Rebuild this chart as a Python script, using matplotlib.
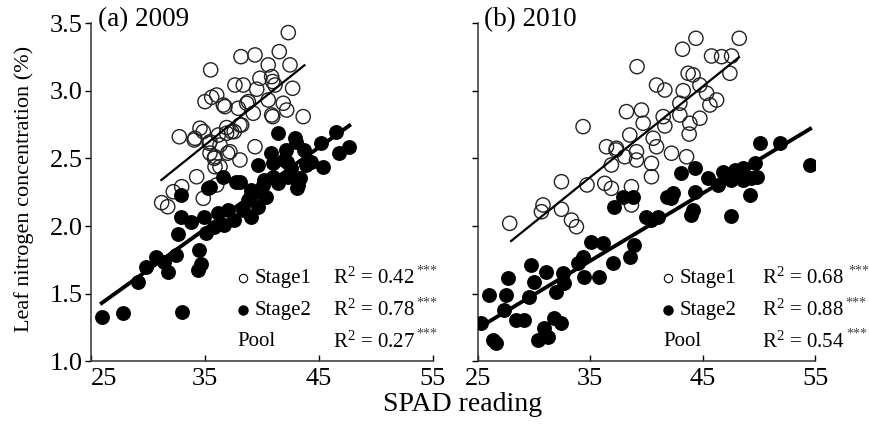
import numpy as np
import matplotlib
matplotlib.use("Agg")
from matplotlib import pyplot as plt

plt.rcParams['font.family'] = ['Liberation Serif', 'DejaVu Serif']
plt.rcParams['mathtext.fontset'] = 'custom'
plt.rcParams['mathtext.rm'] = 'Liberation Serif'
plt.rcParams['mathtext.it'] = 'Liberation Serif:italic'

# (a) 2009
a1_x = [42.31, 41.52, 39.39, 38.16, 40.55, 42.46, 35.50, 40.85, 39.82, 37.63,
        38.36, 39.54, 41.14, 42.69, 36.03, 35.00, 35.59, 36.61, 38.80, 37.92,
        40.55, 41.87, 42.17, 39.24, 40.94, 43.62, 38.22, 37.34, 34.85, 34.12,
        32.75, 36.17, 35.44, 39.39, 36.32, 37.19, 35.88, 38.07, 36.32, 34.27,
        32.96, 32.22, 31.20, 34.85, 36.03, 36.75, 34.06, 35.38, 37.57, 35.82,
        36.99, 31.73, 40.94, 38.66, 40.85, 34.56, 38.07, 36.90, 35.44, 35.88,
        36.90]
a1_y = [3.432, 3.291, 3.267, 3.254, 3.193, 3.193, 3.156, 3.106, 3.094, 3.044,
        3.044, 3.013, 3.044, 3.020, 2.970, 2.921, 2.953, 2.896, 2.921, 2.872,
        2.933, 2.909, 2.859, 2.835, 2.810, 2.810, 2.748, 2.699, 2.699, 2.650,
        2.661, 2.674, 2.624, 2.587, 2.600, 2.550, 2.513, 2.489, 2.439, 2.365,
        2.291, 2.254, 2.173, 2.205, 2.304, 2.884, 2.637, 2.613, 2.699, 2.501,
        2.539, 2.143, 3.070, 2.909, 2.822, 2.724, 2.748, 2.687, 2.540, 2.439,
        2.729]
a2_x = [25.96, 27.81, 32.98, 29.12, 29.82, 30.70, 31.75, 31.40, 32.46, 34.47,
        34.39, 34.65, 32.63, 32.89, 33.77, 32.89, 35.26, 34.91, 36.14, 36.58,
        37.02, 35.09, 35.79, 36.67, 37.72, 37.54, 38.77, 39.04, 39.65, 40.18,
        40.35, 40.96, 41.40, 41.93, 42.11, 42.98, 42.54, 43.16, 43.68, 44.30,
        45.18, 45.35, 46.75, 46.49, 47.63, 40.79, 42.89, 39.65, 43.33, 40.96,
        43.07, 38.07, 40.09, 35.44, 38.95, 43.86, 42.19, 38.33, 39.74, 39.04,
        41.40, 42.28]
a2_y = [1.326, 1.356, 1.363, 1.585, 1.696, 1.770, 1.659, 1.733, 1.785, 1.822,
        1.674, 1.719, 1.941, 2.067, 2.030, 2.230, 2.281, 2.067, 2.096, 2.363,
        2.119, 1.948, 1.993, 2.007, 2.326, 2.044, 2.193, 2.067, 2.141, 2.341,
        2.215, 2.467, 2.689, 2.489, 2.563, 2.622, 2.430, 2.304, 2.563, 2.474,
        2.615, 2.437, 2.541, 2.696, 2.585, 2.541, 2.652, 2.452, 2.356, 2.363,
        2.281, 2.326, 2.304, 2.289, 2.215, 2.452, 2.474, 2.119, 2.252, 2.267,
        2.319, 2.363]

# (b) 2010
b1_x = [44.40, 43.21, 48.25, 39.17, 45.79, 46.68, 47.57, 47.42, 43.71, 44.15,
        44.75, 40.90, 41.64, 43.27, 45.35, 42.97, 46.24, 45.64, 38.23, 39.56,
        41.49, 42.97, 44.75, 39.71, 43.86, 41.64, 34.37, 43.80, 38.52, 40.60,
        36.45, 37.34, 40.90, 39.12, 42.23, 43.57, 36.89, 38.08, 40.45, 39.12,
        40.45, 32.45, 34.72, 36.30, 36.89, 38.67, 30.81, 30.67, 32.45, 33.34,
        33.78, 27.85, 38.67, 37.30]
b1_y = [3.390, 3.309, 3.390, 3.180, 3.259, 3.254, 3.259, 3.131, 3.131, 3.119,
        3.044, 3.044, 3.007, 3.002, 2.983, 2.909, 2.933, 2.896, 2.847, 2.859,
        2.810, 2.822, 2.798, 2.761, 2.761, 2.741, 2.736, 2.681, 2.674, 2.650,
        2.587, 2.576, 2.587, 2.550, 2.539, 2.513, 2.452, 2.513, 2.464, 2.489,
        2.365, 2.328, 2.304, 2.316, 2.279, 2.291, 2.156, 2.106, 2.124, 2.044,
        1.995, 2.020, 2.156, 2.563]
b2_x = [50.06, 51.84, 54.51, 49.62, 48.58, 47.84, 48.58, 49.32, 46.80, 45.46,
        46.35, 47.54, 49.17, 44.28, 43.09, 44.28, 42.20, 44.13, 43.98, 47.54,
        41.01, 40.42, 39.97, 38.94, 38.50, 37.01, 35.83, 35.08, 36.12, 34.34,
        33.90, 34.49, 32.56, 32.71, 31.97, 31.08, 29.74, 30.04, 29.60, 27.67,
        27.52, 26.04, 27.38, 28.41, 29.15, 25.29, 26.33, 26.63, 30.34, 31.23,
        31.82, 32.41, 30.93, 37.16, 37.90, 38.79, 41.79, 42.38, 49.79]
b2_y = [2.613, 2.613, 2.452, 2.464, 2.427, 2.415, 2.341, 2.353, 2.402, 2.353,
        2.304, 2.341, 2.230, 2.427, 2.390, 2.254, 2.205, 2.119, 2.081, 2.074,
        2.069, 2.044, 2.069, 1.859, 1.773, 1.724, 1.624, 1.884, 1.872, 1.773,
        1.724, 1.624, 1.650, 1.576, 1.513, 1.661, 1.711, 1.587, 1.476, 1.613,
        1.489, 1.489, 1.378, 1.304, 1.304, 1.279, 1.156, 1.131, 1.156, 1.180,
        1.316, 1.279, 1.242, 2.143, 2.217, 2.213, 2.217, 2.242, 2.365]

# fitted lines: slope, intercept, x range
fit_a1 = (0.0677, 0.230, 31.1, 43.8)
fit_a2 = (0.0605, -0.140, 25.8, 47.8)
fit_b1 = (0.0672, 0.009, 27.9, 48.3)
fit_b2 = (0.0500, -0.008, 25.0, 54.7)

titles = ['(a) 2009', '(b) 2010']
r2_a = ['0.42', '0.78', '0.27']
r2_b = ['0.68', '0.88', '0.54']
xticks = [25, 35, 45, 55]
yticks = [1.0, 1.5, 2.0, 2.5, 3.0, 3.5]

fig = plt.figure(figsize=(8.7, 4.34), dpi=100)
ax_a = fig.add_axes([0.1046, 0.168, 0.393, 0.778])
ax_b = fig.add_axes([0.549, 0.168, 0.388, 0.778])

# legend columns in axes fraction: marker, stage text, pool text, R2 text
leg_a = (0.444, 0.480, 0.427, 0.708)
leg_b = (0.564, 0.599, 0.549, 0.843)

panels = [(ax_a, a1_x, a1_y, a2_x, a2_y, fit_a1, fit_a2, r2_a, leg_a),
          (ax_b, b1_x, b1_y, b2_x, b2_y, fit_b1, fit_b2, r2_b, leg_b)]

for i, (ax, x1, y1, x2, y2, f1, f2, r2, lg) in enumerate(panels):
  ax.scatter(x1, y1, s=105, facecolors='none', edgecolors='#222222', linewidths=1.0, zorder=2)
  ax.scatter(x2, y2, s=115, color='black', linewidths=0, zorder=3)
  for f, lw in [(f1, 1.6), (f2, 2.8)]:
    xx = np.array([f[2], f[3]])
    ax.plot(xx, f[0] * xx + f[1], color='black', lw=lw, zorder=4, solid_capstyle='butt')

  ax.set_xlim(25, 55)
  ax.set_ylim(1.0, 3.5)
  ax.set_xticks(xticks)
  ax.set_yticks(yticks)
  for s in ['top', 'right']:
    ax.spines[s].set_visible(False)
  for s in ['left', 'bottom']:
    ax.spines[s].set_linewidth(1.1)
    ax.spines[s].set_color('#333333')
  ax.tick_params(axis='x', direction='in', length=4, width=1, labelsize=19, pad=5)
  ax.tick_params(axis='y', direction='out', length=4, width=1, labelsize=19, pad=2)
  if i == 0:
    ax.set_yticklabels(['%.1f' % v for v in yticks])
    ax.set_xticklabels([str(v) for v in xticks])
    ax.get_xticklabels()[0].set_horizontalalignment('left')
  else:
    ax.set_yticklabels([])
  ax.text(25.6, 3.53, titles[i], fontsize=19.5, ha='left', va='center')

  # legend block
  rows = [0.246, 0.151, 0.057]
  mx, tx, px, rx = lg
  ax.plot([mx], [rows[0]], 'o', ms=6, mfc='none', mec='black', mew=0.8,
          transform=ax.transAxes, clip_on=False)
  ax.plot([mx], [rows[1]], 'o', ms=6.5, color='black',
          transform=ax.transAxes, clip_on=False)
  labels = ['Stage1', 'Stage2', 'Pool']
  for k in range(3):
    ax.text(tx if k < 2 else px, rows[k], labels[k], fontsize=15,
            transform=ax.transAxes, ha='left', va='center')
    t = ax.text(rx, rows[k], r'R$^2$ = ' + r2[k], fontsize=15,
                transform=ax.transAxes, ha='left', va='center')
    gap = 3 if (i == 1 and k == 0) else 1
    ax.annotate('***', xy=(1, 1), xycoords=t, xytext=(gap, -7),
                textcoords='offset points', fontsize=10, color='#444444',
                ha='left', va='bottom')

fig.text(0.028, 0.565, 'Leaf nitrogen concentration (%)', rotation=90,
         fontsize=16, ha='center', va='center')
fig.text(0.532, 0.068, 'SPAD reading', fontsize=20, ha='center', va='center')

fig.savefig('out.png', dpi=100)
